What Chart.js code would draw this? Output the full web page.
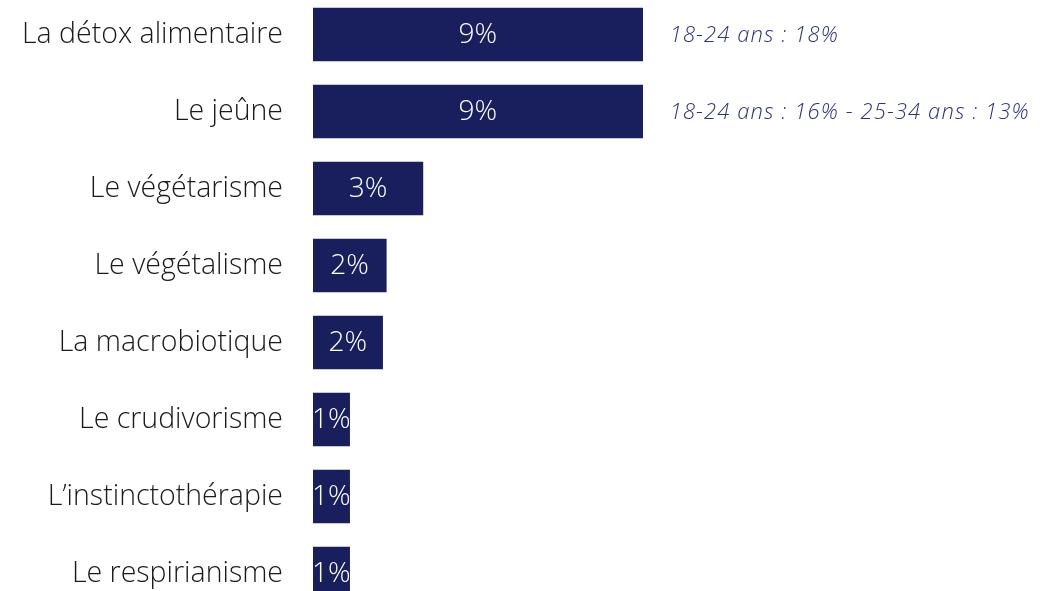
<!DOCTYPE html>
<html>
<head>
<meta charset="utf-8">
<script src="https://cdn.jsdelivr.net/npm/chart.js@4"></script>
<style>
    html, body { margin: 0; padding: 0; background: #fff; overflow: hidden; }
    body { width: 1052px; height: 591px; position: relative; }
    #chart { position: absolute; left: 0; top: -20px; }
</style>
</head>
<body>
<canvas id="chart" width="1052" height="656"></canvas>
<script>
const categories = [
    'La détox alimentaire', 'Le jeûne', 'Le végétarisme', 'Le végétalisme',
    'La macrobiotique', 'Le crudivorisme', 'L\u2019instinctothérapie', 'Le respirianisme'
];
const values = [9, 9, 3, 2, 1.9, 1, 1, 1];
const valueLabels = ['9%', '9%', '3%', '2%', '2%', '1%', '1%', '1%'];
const notes = ['18-24 ans : 18%', '18-24 ans : 16% - 25-34 ans : 13%', '', '', '', '', '', ''];

const navy = '#191f5c';

// étiquettes dans les barres + commentaires à droite
const labelsPlugin = {
    id: 'labels',
    afterDatasetsDraw(chart) {
        const ctx = chart.ctx;
        const meta = chart.getDatasetMeta(0);
        const xScale = chart.scales.x;
        ctx.save();
        ctx.textBaseline = 'middle';
        meta.data.forEach((bar, i) => {
            const x0 = xScale.getPixelForValue(0);
            ctx.fillStyle = '#ffffff';
            ctx.textAlign = 'center';
            ctx.font = '300 28px "Open Sans"';
            ctx.fillText(valueLabels[i], (x0 + bar.x) / 2, bar.y + 1);
            if (notes[i]) {
                ctx.fillStyle = '#2c3272';
                ctx.textAlign = 'left';
                ctx.font = 'italic 300 22px "Open Sans"';
                ctx.letterSpacing = '1.1px';
                ctx.fillText(notes[i], bar.x + 27, bar.y + 1);
                ctx.letterSpacing = '0px';
            }
        });
        ctx.restore();
    }
};

new Chart(document.getElementById('chart'), {
    type: 'bar',
    data: {
        labels: categories,
        datasets: [{
            data: values,
            backgroundColor: navy,
            borderWidth: 0,
            barThickness: 53
        }]
    },
    options: {
        indexAxis: 'y',
        responsive: false,
        animation: false,
        layout: { padding: { top: 16, bottom: 24, left: 0, right: 6.4 } },
        scales: {
            x: { display: false, min: 0, max: 20 },
            y: {
                grid: { display: false },
                border: { display: false },
                ticks: {
                    color: '#1a1a1a',
                    padding: 22,
                    font: { family: 'Open Sans', size: 28.5, weight: '300' }
                },
                afterFit(axis) {
                    axis.width = 313;
                    axis.paddingTop = 0;
                    axis.paddingBottom = 0;
                }
            }
        },
        plugins: {
            legend: { display: false },
            tooltip: { enabled: false }
        }
    },
    plugins: [labelsPlugin]
});
</script>
</body>
</html>
